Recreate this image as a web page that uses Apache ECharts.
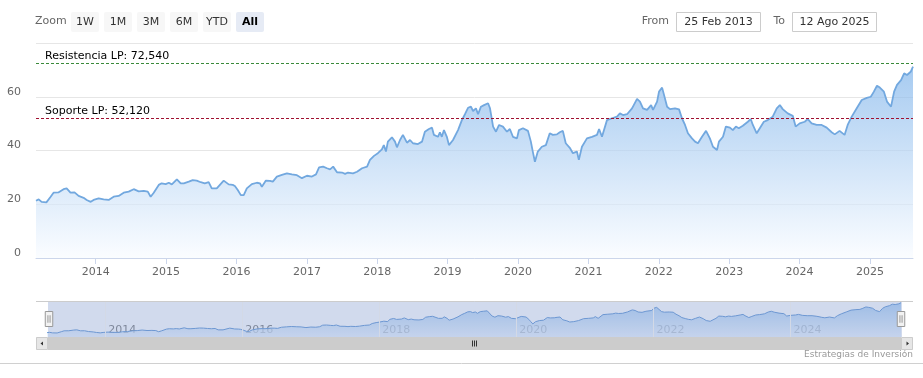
<!DOCTYPE html>
<html>
<head>
<meta charset="utf-8">
<script src="https://cdn.jsdelivr.net/npm/echarts@6.0.0/dist/echarts.min.js"></script>
<style>
  html, body { margin: 0; padding: 0; background: #fff; }
  #chart { width: 923px; height: 378px; }
</style>
</head>
<body>
<div id="chart"></div>
<script>
// weekly-ish closes
const dates = [
  '2013-02-25','2013-03-11','2013-03-26','2013-04-20','2013-05-12','2013-05-27','2013-06-21','2013-07-18',
  '2013-08-03','2013-08-23','2013-09-13','2013-10-04','2013-10-30','2013-11-15','2013-12-06','2013-12-21',
  '2014-01-16','2014-02-11','2014-03-09','2014-04-04','2014-04-30','2014-05-26','2014-06-21','2014-07-17',
  '2014-08-12','2014-09-07','2014-09-28','2014-10-13','2014-10-29','2014-11-24','2014-12-09','2014-12-30',
  '2015-01-15','2015-01-31','2015-02-26','2015-03-18','2015-04-03','2015-04-29','2015-05-19','2015-06-09',
  '2015-06-30','2015-07-21','2015-08-10','2015-08-26','2015-09-21','2015-10-01','2015-10-27','2015-11-22',
  '2015-12-13','2015-12-24','2016-01-08','2016-01-24','2016-02-08','2016-02-24','2016-03-21','2016-04-16',
  '2016-05-02','2016-05-12','2016-06-02','2016-06-23','2016-07-08','2016-07-29','2016-08-24','2016-09-19',
  '2016-10-15','2016-11-10','2016-12-06','2017-01-01','2017-01-27','2017-02-17','2017-03-05','2017-03-26',
  '2017-04-15','2017-05-01','2017-05-17','2017-06-06','2017-07-02','2017-07-18','2017-08-02','2017-08-28',
  '2017-09-18','2017-10-14','2017-11-09','2017-11-24','2017-12-15','2018-01-04','2018-01-25','2018-02-04',
  '2018-02-15','2018-02-25','2018-03-18','2018-04-03','2018-04-13','2018-04-29','2018-05-14','2018-06-04',
  '2018-06-20','2018-07-05','2018-07-31','2018-08-21','2018-09-05','2018-09-26','2018-10-12','2018-10-22',
  '2018-11-12','2018-11-22','2018-12-02','2018-12-13','2018-12-28','2019-01-08','2019-01-29','2019-02-24',
  '2019-03-16','2019-04-01','2019-04-17','2019-05-02','2019-05-13','2019-05-28','2019-06-08','2019-06-23',
  '2019-07-09','2019-07-30','2019-08-09','2019-08-25','2019-09-09','2019-09-25','2019-10-15','2019-11-05',
  '2019-11-20','2019-12-06','2019-12-27','2020-01-06','2020-01-27','2020-02-06','2020-02-22','2020-03-08',
  '2020-03-18','2020-03-29','2020-04-13','2020-05-04','2020-05-25','2020-06-14','2020-06-30','2020-07-21',
  '2020-08-05','2020-08-21','2020-09-05','2020-09-26','2020-10-12','2020-11-02','2020-11-12','2020-11-28',
  '2020-12-24','2021-01-19','2021-02-14','2021-02-25','2021-03-12','2021-04-07','2021-05-03','2021-05-29',
  '2021-06-13','2021-06-29','2021-07-20','2021-08-15','2021-09-10','2021-09-25','2021-10-11','2021-11-01',
  '2021-11-22','2021-12-02','2021-12-23','2022-01-02','2022-01-18','2022-01-28','2022-02-13','2022-02-28',
  '2022-03-26','2022-04-16','2022-05-01','2022-05-17','2022-06-01','2022-06-22','2022-07-08','2022-07-23',
  '2022-08-13','2022-09-03','2022-09-23','2022-10-09','2022-10-30','2022-11-09','2022-11-30','2022-12-15',
  '2023-01-05','2023-01-20','2023-02-05','2023-02-20','2023-03-13','2023-04-08','2023-04-23','2023-05-04',
  '2023-05-24','2023-06-09','2023-06-30','2023-07-20','2023-08-15','2023-09-05','2023-09-21','2023-10-06',
  '2023-11-01','2023-11-27','2023-12-12','2024-01-02','2024-01-28','2024-02-13','2024-03-04','2024-03-30',
  '2024-04-25','2024-05-21','2024-06-16','2024-07-02','2024-07-27','2024-08-22','2024-09-07','2024-09-28',
  '2024-10-24','2024-11-19','2024-12-15','2025-01-05','2025-01-21','2025-02-06','2025-02-21','2025-03-14',
  '2025-03-30','2025-04-20','2025-05-06','2025-05-21','2025-06-11','2025-06-27','2025-07-12','2025-07-31',
  '2025-08-12'
];
const prices = [
  21.3, 21.8, 20.9, 20.7, 22.8, 24.3, 24.4, 25.6,
  25.9, 24.3, 24.4, 23.1, 22.4, 21.6, 20.9, 21.6,
  22.2, 21.8, 21.6, 22.8, 23.1, 24.3, 24.7, 25.6,
  24.8, 25.0, 24.7, 22.8, 24.3, 27.2, 27.8, 27.5,
  28.0, 27.4, 29.3, 27.8, 27.8, 28.4, 29.0, 28.8,
  28.2, 27.8, 28.2, 25.9, 25.9, 26.5, 28.8, 27.4,
  27.2, 26.8, 25.3, 23.4, 23.4, 25.9, 27.5, 28.0,
  27.8, 26.5, 28.8, 28.7, 28.4, 30.3, 30.9, 31.5,
  31.1, 30.8, 29.7, 30.6, 30.3, 31.1, 33.7, 34.0,
  33.4, 33.0, 34.0, 31.9, 31.8, 31.3, 31.8, 31.5,
  32.1, 33.4, 34.0, 36.5, 38.0, 39.0, 40.4, 42.0,
  39.6, 43.3, 44.9, 43.3, 41.2, 43.9, 45.8, 42.9,
  43.9, 42.7, 42.4, 43.3, 47.0, 48.0, 48.5, 45.8,
  45.1, 46.8, 45.1, 47.6, 45.1, 42.0, 43.9, 47.6,
  51.3, 53.5, 55.9, 56.3, 54.7, 55.7, 53.5, 56.3,
  56.9, 57.6, 55.7, 48.9, 47.0, 49.5, 48.9, 47.0,
  48.0, 45.1, 44.5, 47.6, 48.3, 48.9, 47.3, 43.3,
  39.6, 35.8, 39.6, 41.4, 42.0, 46.4, 45.8, 46.0,
  46.8, 47.3, 42.7, 41.0, 39.0, 39.6, 36.5, 41.4,
  44.5, 45.1, 45.8, 48.0, 45.1, 51.3, 52.0, 52.6,
  53.8, 53.2, 53.5, 55.7, 59.2, 58.2, 55.7, 55.1,
  56.9, 55.1, 58.2, 61.9, 63.4, 60.7, 56.3, 55.4,
  55.7, 55.3, 52.0, 49.5, 46.4, 44.5, 43.3, 42.7,
  45.1, 47.3, 44.5, 41.4, 40.2, 43.3, 45.1, 48.9,
  48.5, 47.6, 48.9, 48.3, 49.2, 50.7, 51.7, 49.5,
  46.4, 48.3, 50.7, 51.3, 52.6, 55.7, 56.9, 55.4,
  53.8, 52.9, 48.9, 50.1, 50.7, 51.7, 50.1, 49.5,
  49.5, 48.5, 46.8, 46.0, 47.3, 45.8, 49.5, 52.6,
  55.7, 58.8, 59.6, 60.0, 61.9, 64.1, 63.4, 61.9,
  58.2, 56.3, 61.9, 64.4, 66.2, 68.7, 68.1, 69.3,
  71.2
];

const RESISTANCE = 72.54;
const SUPPORT = 52.12;
const navigatorYears = [2014, 2016, 2018, 2020, 2022, 2024];
const rangeButtons = ['1W', '1M', '3M', '6M', 'YTD', 'All'];
const selectedButton = 'All';
const fromLabel = '25 Feb 2013';
const toLabel = '12 Ago 2025';

const FONT = "'DejaVu Sans', Verdana, sans-serif";
const YEAR = 365 * 24 * 3600 * 1000;

const toTime = d => new Date(d + 'T00:00:00').getTime();
const seriesData = dates.map((d, i) => [toTime(d), prices[i]]);
const tMin = toTime(dates[0]);
const tMax = toTime(dates[dates.length - 1]);

const fmtLevel = v => v.toFixed(3).replace('.', ',');

const chart = echarts.init(document.getElementById('chart'), null, { renderer: 'canvas' });

function buildGraphics() {
  const g = [];
  g.push({ type: 'text', style: { x: 35, y: 21.5, text: 'Zoom', fill: '#666', font: '11px ' + FONT, verticalAlign: 'middle' } });
  rangeButtons.forEach((b, i) => {
    const x = 71 + i * 33;
    const sel = b === selectedButton;
    g.push({ type: 'rect', shape: { x: x, y: 12, width: 28, height: 20, r: 2 }, style: { fill: sel ? '#e6ebf5' : '#f7f7f7' } });
    g.push({ type: 'text', style: { x: x + 14, y: 22, text: b, fill: sel ? '#000' : '#333', font: (sel ? 'bold ' : '') + '11px ' + FONT, align: 'center', verticalAlign: 'middle' } });
  });
  g.push({ type: 'text', style: { x: 669, y: 21.5, text: 'From', fill: '#666', font: '11px ' + FONT, align: 'right', verticalAlign: 'middle' } });
  g.push({ type: 'rect', shape: { x: 676.5, y: 12.5, width: 84, height: 19 }, style: { fill: '#fff', stroke: '#ccc', lineWidth: 1 } });
  g.push({ type: 'text', style: { x: 718.5, y: 22, text: fromLabel, fill: '#333', font: '11px ' + FONT, align: 'center', verticalAlign: 'middle' } });
  g.push({ type: 'text', style: { x: 785, y: 21.5, text: 'To', fill: '#666', font: '11px ' + FONT, align: 'right', verticalAlign: 'middle' } });
  g.push({ type: 'rect', shape: { x: 792.5, y: 12.5, width: 84, height: 19 }, style: { fill: '#fff', stroke: '#ccc', lineWidth: 1 } });
  g.push({ type: 'text', style: { x: 834.5, y: 22, text: toLabel, fill: '#333', font: '11px ' + FONT, align: 'center', verticalAlign: 'middle' } });

  // navigator outline
  g.push({ type: 'line', shape: { x1: 36, y1: 301.5, x2: 913, y2: 301.5 }, style: { stroke: '#cccccc', lineWidth: 1 }, z: 10 });
  // scrollbar
  g.push({ type: 'rect', shape: { x: 36, y: 337, width: 877, height: 13 }, style: { fill: '#f2f2f2' }, z: 10 });
  g.push({ type: 'rect', shape: { x: 48, y: 337, width: 853, height: 13 }, style: { fill: '#cccccc' }, z: 10 });
  g.push({ type: 'rect', shape: { x: 36.5, y: 337.5, width: 11, height: 12 }, style: { fill: '#e6e6e6', stroke: '#cccccc', lineWidth: 1 }, z: 10 });
  g.push({ type: 'rect', shape: { x: 901.5, y: 337.5, width: 11, height: 12 }, style: { fill: '#e6e6e6', stroke: '#cccccc', lineWidth: 1 }, z: 10 });
  g.push({ type: 'polygon', shape: { points: [[40.5, 343.5], [43, 341.5], [43, 345.5]] }, style: { fill: '#333' }, z: 11 });
  g.push({ type: 'polygon', shape: { points: [[909, 343.5], [906.5, 341.5], [906.5, 345.5]] }, style: { fill: '#333' }, z: 11 });
  [472.5, 474.5, 476.5].forEach(x => {
    g.push({ type: 'line', shape: { x1: x, y1: 340.5, x2: x, y2: 346.5 }, style: { stroke: '#333', lineWidth: 1 }, z: 11 });
  });
  // bottom border + credits
  g.push({ type: 'line', shape: { x1: 0, y1: 363.5, x2: 923, y2: 363.5 }, style: { stroke: '#d0d0d0', lineWidth: 1 } });
  g.push({ type: 'text', style: { x: 913, y: 355, text: 'Estrategias de Inversión', fill: '#999', font: '9px ' + FONT, align: 'right', verticalAlign: 'middle' } });
  return g;
}

chart.setOption({
  animation: false,
  textStyle: { fontFamily: FONT },
  grid: [
    { left: 36, right: 10, top: 43, bottom: 120 },
    { left: 47, right: 22, top: 301, height: 36 }
  ],
  xAxis: [
    {
      type: 'time', gridIndex: 0, min: tMin, max: tMax,
      minInterval: YEAR, maxInterval: YEAR * 1.01,
      axisLine: { lineStyle: { color: '#ccd6eb' } },
      axisTick: { show: true, length: 6, lineStyle: { color: '#ccd6eb' } },
      axisLabel: { formatter: '{yyyy}', color: '#666', fontSize: 11, fontFamily: FONT, margin: 9, showMinLabel: false, showMaxLabel: false },
      splitLine: { show: false }
    },
    {
      type: 'time', gridIndex: 1, min: tMin, max: tMax,
      minInterval: YEAR, maxInterval: YEAR * 1.01,
      axisLine: { show: false },
      axisTick: { show: false },
      axisLabel: {
        inside: true, color: '#8a8a8a', fontSize: 11, fontFamily: FONT, align: 'left', padding: [0, 0, 0, 3], margin: 1,
        showMinLabel: false, showMaxLabel: false,
        formatter: v => {
          const y = new Date(v).getFullYear();
          return navigatorYears.indexOf(y) >= 0 ? String(y) : '';
        }
      },
      splitLine: { show: false }
    }
  ],
  yAxis: [
    {
      type: 'value', gridIndex: 0, min: 0, max: 80, interval: 20,
      axisLine: { show: false }, axisTick: { show: false },
      axisLabel: { color: '#666', fontSize: 11, fontFamily: FONT, margin: 15, showMaxLabel: false, verticalAlign: 'bottom', lineHeight: 10 },
      splitLine: { lineStyle: { color: '#e6e6e6' } }
    },
    { type: 'value', gridIndex: 1, min: 14, max: 74, show: false, splitLine: { show: false } }
  ],
  dataZoom: [{
    type: 'slider', xAxisIndex: 0, left: 47, right: 22, top: 301, height: 36,
    showDataShadow: false, showDetail: false, brushSelect: false, realtime: false,
    backgroundColor: 'transparent', borderColor: 'transparent',
    fillerColor: 'rgba(102,133,194,0.3)',
    handleIcon: 'path://M0,0H7V14H0Z M2.5,3.5V10.5 M4.5,3.5V10.5',
    handleSize: 15,
    handleStyle: { color: '#f2f2f2', borderColor: '#999', borderWidth: 1 },
    moveHandleSize: 0,
    emphasis: { handleStyle: { color: '#f2f2f2', borderColor: '#999' } }
  }],
  series: [
    {
      type: 'line', xAxisIndex: 0, yAxisIndex: 0, data: seriesData,
      showSymbol: false, smooth: false,
      lineStyle: { color: '#72a8df', width: 1.8 },
      areaStyle: {
        color: new echarts.graphic.LinearGradient(0, 0, 0, 1, [
          { offset: 0, color: 'rgb(128,180,234)' },
          { offset: 1, color: 'rgb(248,251,255)' }
        ])
      },
      markLine: {
        silent: true, symbol: 'none',
        label: { position: 'insideStartTop', color: '#000', fontSize: 11, fontFamily: FONT, distance: [9, 1] },
        data: [
          { yAxis: RESISTANCE, lineStyle: { color: '#3a8a3a', type: [3, 2], width: 1 }, label: { formatter: 'Resistencia LP: ' + fmtLevel(RESISTANCE) } },
          { yAxis: SUPPORT, lineStyle: { color: '#a01030', type: [3, 2], width: 1 }, label: { formatter: 'Soporte LP: ' + fmtLevel(SUPPORT) } }
        ]
      }
    },
    {
      type: 'line', xAxisIndex: 1, yAxisIndex: 1, data: seriesData,
      showSymbol: false,
      lineStyle: { color: '#6f9fd8', width: 1 },
      areaStyle: {
        color: new echarts.graphic.LinearGradient(0, 0, 0, 1, [
          { offset: 0, color: 'rgb(150,195,240)' },
          { offset: 1, color: 'rgb(230,240,252)' }
        ])
      },
      markLine: {
        silent: true, symbol: 'none', label: { show: false },
        lineStyle: { color: '#d3d9e6', type: 'solid', width: 1 },
        data: navigatorYears.map(y => ({ xAxis: new Date(y, 0, 1).getTime() }))
      }
    }
  ],
  graphic: buildGraphics()
});
</script>
</body>
</html>
